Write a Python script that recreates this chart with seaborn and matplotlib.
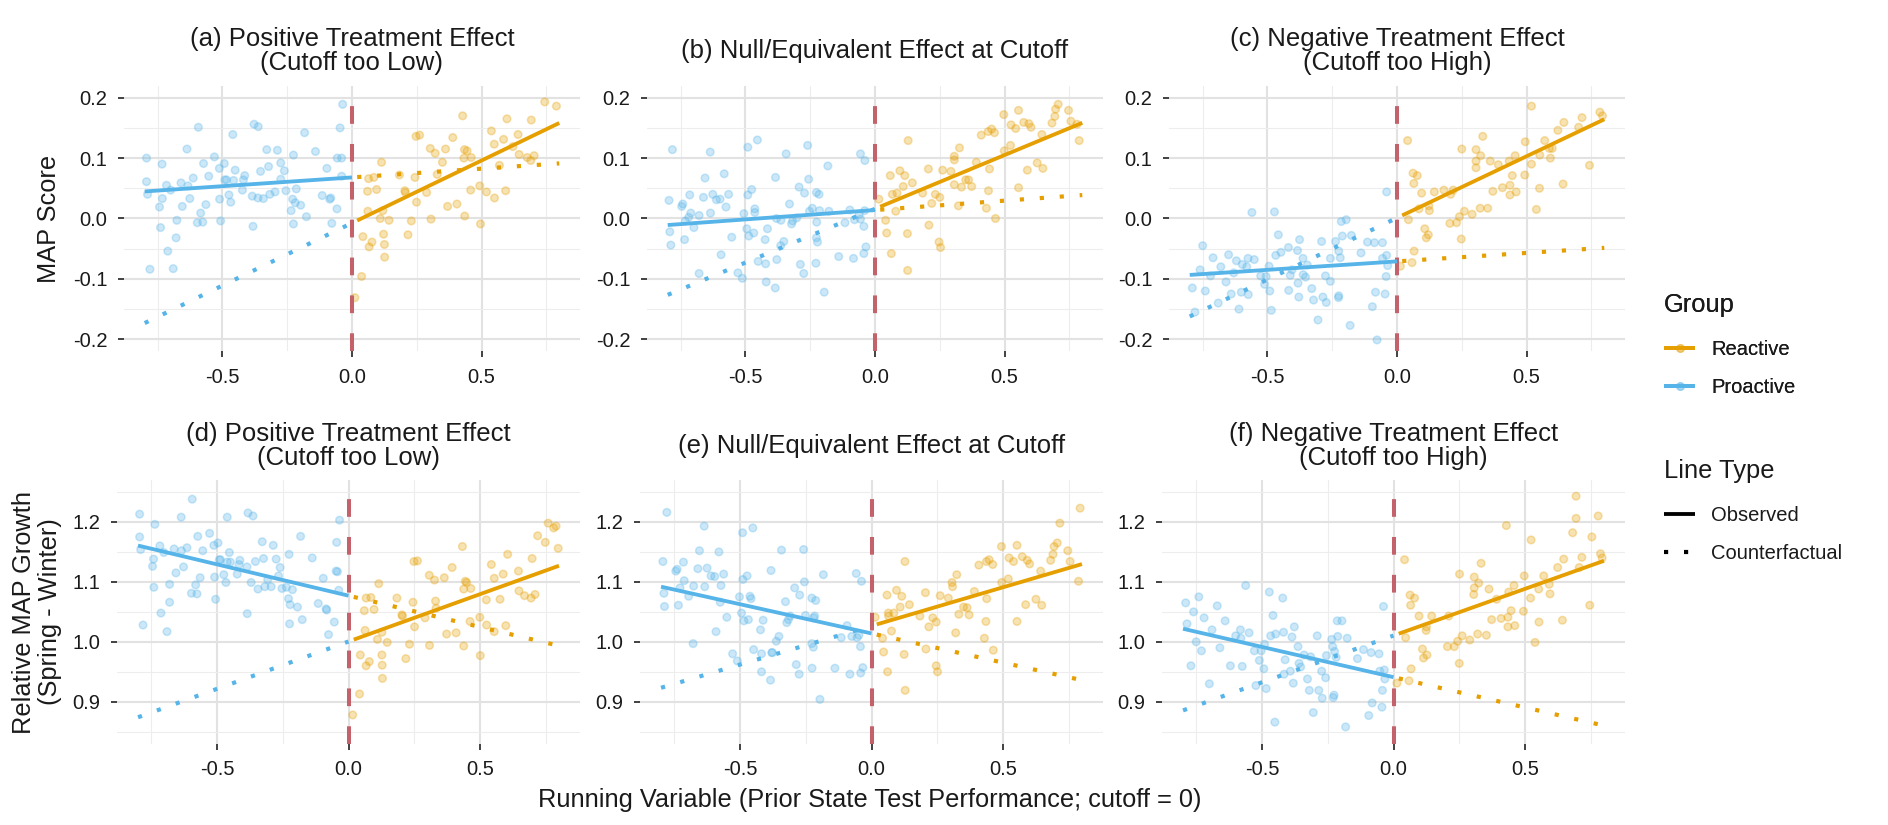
import matplotlib
matplotlib.use("Agg")
import matplotlib.pyplot as plt
from matplotlib.lines import Line2D
from matplotlib.ticker import FixedLocator, FuncFormatter
import numpy as np
import pandas as pd
import seaborn as sns

# ---------------- data ----------------
titles = ["(a) Positive Treatment Effect\n(Cutoff too Low)",
          "(b) Null/Equivalent Effect at Cutoff",
          "(c) Negative Treatment Effect\n(Cutoff too High)",
          "(d) Positive Treatment Effect\n(Cutoff too Low)",
          "(e) Null/Equivalent Effect at Cutoff",
          "(f) Negative Treatment Effect\n(Cutoff too High)"]
groups = ["Reactive", "Proactive"]
line_types = ["Observed", "Counterfactual"]
x_ticks = [-0.5, 0.0, 0.5]
x_minor = [-0.75, -0.25, 0.25, 0.75]
top_ticks = [-0.2, -0.1, 0.0, 0.1, 0.2]
top_minor = [-0.15, -0.05, 0.05, 0.15]
bot_ticks = [0.9, 1.0, 1.1, 1.2]
bot_minor = [0.85, 0.95, 1.05, 1.15, 1.25]
top_ylabel = "MAP Score"
bot_ylabel = "Relative MAP Growth\n(Spring - Winter)"
x_label = "Running Variable (Prior State Test Performance; cutoff = 0)"

# (x, y) points, proactive = left of cutoff, reactive = right of cutoff
a_pro = [(-0.793,0.100),(-0.793,0.061),(-0.789,0.040),(-0.780,-0.084),(-0.743,0.019),(-0.739,-0.015),
         (-0.733,0.090),(-0.732,0.033),(-0.716,0.055),(-0.711,-0.054),(-0.700,0.047),(-0.690,-0.083),
         (-0.679,-0.032),(-0.676,-0.003),(-0.660,0.059),(-0.655,0.020),(-0.637,0.115),(-0.633,0.054),
         (-0.626,0.033),(-0.613,0.067),(-0.597,-0.007),(-0.593,0.151),(-0.584,0.009),(-0.576,-0.006),
         (-0.573,0.091),(-0.564,0.023),(-0.553,0.070),(-0.531,0.102),(-0.512,0.083),(-0.511,0.032),
         (-0.507,-0.004),(-0.493,0.091),(-0.491,0.064),(-0.484,0.064),(-0.475,0.039),(-0.468,0.027),
         (-0.460,0.139),(-0.457,0.063),(-0.451,0.080),(-0.423,0.047),(-0.419,0.064),(-0.414,0.071),
         (-0.385,0.037),(-0.382,-0.013),(-0.378,0.156),(-0.362,0.152),(-0.363,0.034),(-0.353,0.078),
         (-0.342,0.033),(-0.329,0.114),(-0.322,0.086),(-0.317,0.040),(-0.297,0.044),(-0.288,0.113),
         (-0.275,0.092),(-0.275,0.065),(-0.261,0.079),(-0.255,0.046),(-0.235,0.013),(-0.229,0.032),
         (-0.226,0.105),(-0.226,-0.009),(-0.219,0.026),(-0.215,0.049),(-0.198,0.022),(-0.183,0.142),
         (-0.176,0.003),(-0.141,0.111),(-0.115,0.038),(-0.097,0.083),(-0.086,0.032),(-0.082,0.034),
         (-0.078,-0.008),(-0.058,0.016),(-0.057,0.100),(-0.046,0.150),(-0.040,0.100),(-0.040,0.070),
         (-0.036,0.189)]
a_rea = [(0.011,-0.131),(0.037,-0.096),(0.042,-0.030),(0.060,0.045),(0.061,0.012),(0.064,0.066),
         (0.066,-0.047),(0.077,-0.039),(0.084,0.068),(0.095,0.048),(0.109,0.000),(0.114,0.093),
         (0.119,0.013),(0.122,-0.026),(0.125,-0.043),(0.126,-0.064),(0.143,-0.003),(0.183,0.072),
         (0.204,0.046),(0.206,0.043),(0.216,-0.027),(0.229,-0.004),(0.243,0.068),(0.247,0.136),
         (0.249,0.027),(0.261,0.138),(0.288,0.043),(0.302,0.116),(0.305,-0.001),(0.321,0.108),
         (0.329,0.073),(0.349,0.093),(0.361,0.115),(0.369,0.020),(0.389,0.134),(0.405,0.024),
         (0.427,0.170),(0.432,0.100),(0.434,0.114),(0.435,0.004),(0.444,0.112),(0.458,0.047),
         (0.460,0.101),(0.493,0.054),(0.496,-0.009),(0.519,0.044),(0.538,0.145),(0.549,0.123),
         (0.550,0.034),(0.569,0.088),(0.585,0.131),(0.593,0.046),(0.598,0.165),(0.621,0.119),
         (0.641,0.139),(0.645,0.106),(0.676,0.101),(0.690,0.096),(0.692,0.163),(0.703,0.104),
         (0.744,0.193),(0.789,0.186)]

b_pro = [(-0.782,0.114),(-0.795,0.030),(-0.792,-0.022),(-0.788,-0.044),(-0.746,0.020),(-0.742,0.024),
         (-0.735,-0.035),(-0.732,-0.004),(-0.719,0.002),(-0.715,0.039),(-0.711,0.009),(-0.699,-0.015),
         (-0.679,0.005),(-0.679,-0.091),(-0.662,0.035),(-0.656,0.067),(-0.636,0.110),(-0.635,0.009),
         (-0.626,0.040),(-0.612,0.031),(-0.598,0.032),(-0.594,-0.060),(-0.582,0.074),(-0.575,0.019),
         (-0.565,0.040),(-0.553,-0.031),(-0.529,-0.090),(-0.512,-0.099),(-0.506,0.008),(-0.491,0.118),
         (-0.491,0.039),(-0.495,-0.017),(-0.487,-0.029),(-0.476,0.048),(-0.468,-0.024),(-0.464,0.016),
         (-0.464,0.010),(-0.454,0.130),(-0.451,-0.071),(-0.424,-0.035),(-0.422,-0.075),(-0.420,-0.105),
         (-0.415,-0.017),(-0.385,-0.115),(-0.384,0.068),(-0.380,0.000),(-0.379,-0.068),(-0.364,-0.045),
         (-0.363,-0.003),(-0.352,-0.038),(-0.343,0.107),(-0.330,0.024),(-0.322,-0.009),(-0.318,-0.004),
         (-0.302,0.001),(-0.293,0.052),(-0.288,-0.076),(-0.275,-0.091),(-0.272,0.042),(-0.260,0.121),
         (-0.256,0.065),(-0.253,0.012),(-0.242,0.017),(-0.228,-0.074),(-0.226,-0.032),(-0.226,0.043),
         (-0.225,-0.006),(-0.222,-0.039),(-0.216,0.040),(-0.214,0.013),(-0.196,-0.122),(-0.182,0.087),
         (-0.178,0.012),(-0.140,-0.063),(-0.116,-0.007),(-0.097,0.014),(-0.083,-0.066),(-0.079,-0.002),
         (-0.061,0.007),(-0.056,0.107),(-0.056,-0.001),(-0.043,-0.058),(-0.043,-0.013),(-0.039,0.096),
         (-0.035,-0.047),(-0.040,0.013)]
b_rea = [(0.015,0.032),(0.041,-0.003),(0.045,-0.024),(0.059,0.071),(0.063,-0.058),(0.067,0.040),
         (0.080,0.012),(0.085,0.042),(0.096,0.079),(0.109,0.053),(0.115,0.071),(0.125,-0.025),
         (0.126,-0.086),(0.128,0.129),(0.144,0.059),(0.184,0.042),(0.206,0.082),(0.208,-0.011),
         (0.219,0.025),(0.233,0.040),(0.247,-0.039),(0.250,0.035),(0.253,-0.048),(0.261,0.080),
         (0.293,0.078),(0.306,0.103),(0.306,0.097),(0.306,0.056),(0.322,0.021),(0.326,0.117),
         (0.334,0.052),(0.350,0.064),(0.361,0.064),(0.373,0.053),(0.391,0.093),(0.410,0.138),
         (0.430,0.017),(0.438,0.046),(0.437,0.144),(0.442,0.082),(0.450,0.148),(0.461,0.142),
         (0.465,0.000),(0.497,0.172),(0.499,0.112),(0.523,0.121),(0.525,0.155),(0.543,0.149),
         (0.554,0.179),(0.554,0.051),(0.574,0.159),(0.588,0.080),(0.594,0.157),(0.602,0.151),
         (0.626,0.092),(0.644,0.139),(0.648,0.083),(0.683,0.158),(0.694,0.169),(0.697,0.181),
         (0.707,0.189),(0.747,0.179),(0.756,0.161),(0.780,0.156),(0.788,0.129)]

c_pro = [(-0.790,-0.115),(-0.780,-0.155),(-0.760,-0.085),(-0.750,-0.045),(-0.740,-0.120),(-0.720,-0.095),
         (-0.710,-0.065),(-0.690,-0.140),(-0.680,-0.080),(-0.660,-0.105),(-0.650,-0.060),(-0.640,-0.125),
         (-0.630,-0.090),(-0.620,-0.070),(-0.610,-0.150),
         (-0.597,-0.076),(-0.580,-0.080),(-0.575,-0.066),(-0.551,-0.068),(-0.574,-0.126),(-0.601,-0.122),
         (-0.560,0.010),(-0.526,-0.095),(-0.511,-0.109),(-0.505,-0.096),(-0.494,-0.079),(-0.491,-0.120),
         (-0.485,-0.152),(-0.473,0.011),(-0.468,-0.061),(-0.458,-0.027),(-0.448,-0.056),(-0.419,-0.048),
         (-0.418,-0.119),(-0.412,-0.094),(-0.405,-0.085),(-0.384,-0.053),(-0.382,-0.107),(-0.379,-0.130),
         (-0.376,-0.035),(-0.363,-0.066),(-0.362,-0.093),(-0.353,-0.097),(-0.346,-0.077),(-0.329,-0.116),
         (-0.322,-0.135),(-0.305,-0.168),(-0.291,-0.038),(-0.286,-0.130),(-0.276,-0.095),(-0.273,-0.139),
         (-0.257,-0.066),(-0.257,-0.104),(-0.237,-0.038),(-0.226,-0.131),(-0.225,-0.128),(-0.225,-0.054),
         (-0.219,-0.065),(-0.215,-0.005),(-0.211,-0.029),(-0.196,-0.002),(-0.181,-0.177),(-0.176,-0.028),
         (-0.139,-0.057),(-0.114,-0.039),(-0.095,-0.146),(-0.087,-0.040),(-0.083,-0.122),(-0.077,-0.201),
         (-0.056,-0.040),(-0.056,-0.066),(-0.046,-0.125),(-0.042,-0.096),(-0.040,0.044),(-0.040,-0.061),
         (-0.036,-0.078)]
c_rea = [(0.013,-0.079),(0.041,0.129),(0.044,-0.002),(0.058,-0.073),(0.062,0.075),(0.065,0.058),
         (0.066,-0.054),(0.078,0.071),(0.085,0.016),(0.095,0.042),(0.107,-0.017),(0.113,-0.032),
         (0.121,-0.027),(0.123,0.021),(0.125,0.013),(0.144,0.044),(0.181,0.047),(0.204,-0.008),
         (0.207,0.040),(0.217,0.047),(0.230,-0.007),(0.241,0.003),(0.248,-0.034),(0.250,0.115),
         (0.260,0.012),(0.290,0.007),(0.305,0.114),(0.305,0.095),(0.305,0.084),(0.321,0.017),
         (0.323,0.104),(0.331,0.136),(0.350,0.017),(0.360,0.095),(0.370,0.045),(0.391,0.089),
         (0.407,0.051),(0.433,0.095),(0.436,0.055),(0.436,0.039),(0.445,0.071),(0.456,0.104),
         (0.460,0.044),(0.493,0.072),(0.495,0.127),(0.519,0.090),(0.519,0.186),(0.538,0.015),
         (0.550,0.050),(0.551,0.105),(0.570,0.129),(0.588,0.116),(0.592,0.100),(0.599,0.116),
         (0.621,0.146),(0.641,0.057),(0.644,0.159),(0.701,0.151),(0.714,0.167),(0.743,0.088),
         (0.783,0.176),(0.793,0.170)]

d_pro = [(-0.794,1.213),(-0.794,1.175),(-0.790,1.154),(-0.781,1.028),(-0.745,1.126),(-0.741,1.138),
         (-0.740,1.091),(-0.736,1.196),(-0.717,1.160),(-0.713,1.048),(-0.702,1.149),(-0.690,1.017),
         (-0.680,1.096),(-0.680,1.066),(-0.663,1.155),(-0.656,1.115),(-0.636,1.208),(-0.635,1.152),
         (-0.627,1.125),(-0.614,1.157),(-0.597,1.081),(-0.594,1.238),(-0.581,1.095),(-0.576,1.080),
         (-0.573,1.176),(-0.564,1.107),(-0.554,1.152),(-0.528,1.181),(-0.512,1.161),(-0.509,1.108),
         (-0.505,1.071),(-0.496,1.165),(-0.491,1.137),(-0.487,1.137),(-0.474,1.112),(-0.466,1.099),
         (-0.461,1.208),(-0.461,1.133),(-0.453,1.149),(-0.449,1.133),(-0.423,1.113),(-0.416,1.129),
         (-0.413,1.136),(-0.386,1.125),(-0.385,1.047),(-0.382,1.215),(-0.370,1.099),(-0.363,1.210),
         (-0.354,1.134),(-0.344,1.088),(-0.328,1.167),(-0.323,1.139),(-0.318,1.092),(-0.307,1.104),
         (-0.294,1.092),(-0.286,1.161),(-0.275,1.138),(-0.266,1.110),(-0.260,1.124),(-0.253,1.089),
         (-0.236,1.091),(-0.228,1.072),(-0.226,1.146),(-0.224,1.030),(-0.222,1.062),(-0.213,1.087),
         (-0.194,1.058),(-0.182,1.176),(-0.176,1.037),(-0.138,1.140),(-0.115,1.064),(-0.096,1.106),
         (-0.085,1.055),(-0.083,1.053),(-0.076,1.012),(-0.054,1.033),(-0.047,1.118),(-0.045,1.166),
         (-0.042,1.117),(-0.037,1.086),(-0.034,1.203)]
d_rea = [(0.016,0.878),(0.042,0.913),(0.045,0.978),(0.060,1.052),(0.063,1.019),(0.067,0.960),
         (0.067,1.073),(0.079,0.967),(0.085,1.074),(0.097,1.054),(0.110,1.004),(0.115,1.097),
         (0.127,0.978),(0.127,1.016),(0.128,0.961),(0.129,0.939),(0.147,0.999),(0.184,1.073),
         (0.203,1.045),(0.205,1.043),(0.218,0.972),(0.232,0.996),(0.245,1.066),(0.251,1.025),
         (0.249,1.134),(0.262,1.135),(0.291,1.040),(0.307,1.111),(0.308,0.994),(0.327,1.103),
         (0.331,1.068),(0.333,1.056),(0.364,1.107),(0.373,1.013),(0.394,1.124),(0.409,1.015),
         (0.433,1.159),(0.438,1.088),(0.438,0.993),(0.444,1.101),(0.449,1.099),(0.465,1.089),
         (0.462,1.034),(0.499,1.041),(0.501,0.977),(0.524,1.070),(0.525,1.028),(0.543,1.129),
         (0.554,1.017),(0.554,1.106),(0.576,1.071),(0.588,1.113),(0.598,1.027),(0.605,1.146),
         (0.646,1.118),(0.648,1.085),(0.669,1.077),(0.694,1.073),(0.698,1.139),(0.709,1.079),
         (0.719,1.177),(0.748,1.166),(0.759,1.198),(0.780,1.190),(0.789,1.193),(0.797,1.156)]

e_pro = [(-0.793,1.134),(-0.789,1.081),(-0.787,1.059),(-0.778,1.216),(-0.744,1.118),(-0.739,1.121),
         (-0.734,1.061),(-0.728,1.090),(-0.715,1.133),(-0.712,1.102),(-0.695,1.076),(-0.678,0.997),
         (-0.676,1.093),(-0.660,1.122),(-0.654,1.152),(-0.636,1.193),(-0.634,1.092),(-0.625,1.123),
         (-0.610,1.110),(-0.596,1.109),(-0.591,1.017),(-0.580,1.150),(-0.572,1.094),(-0.575,1.066),
         (-0.562,1.113),(-0.550,1.041),(-0.528,0.980),(-0.510,0.968),(-0.502,1.075),(-0.494,1.048),
         (-0.490,1.182),(-0.489,1.104),(-0.485,1.035),(-0.473,1.110),(-0.468,1.037),(-0.462,1.076),
         (-0.458,1.072),(-0.451,1.190),(-0.448,0.987),(-0.422,1.020),(-0.418,0.980),(-0.418,0.950),
         (-0.412,1.036),(-0.384,0.936),(-0.382,1.119),(-0.379,0.982),(-0.377,0.982),(-0.362,1.001),
         (-0.352,1.009),(-0.342,1.153),(-0.327,1.067),(-0.322,1.032),(-0.316,1.037),(-0.309,1.043),
         (-0.292,1.090),(-0.286,0.962),(-0.275,0.946),(-0.273,1.078),(-0.258,1.154),(-0.255,1.100),
         (-0.251,1.044),(-0.227,1.073),(-0.227,0.997),(-0.226,0.956),(-0.221,0.991),(-0.220,1.040),
         (-0.216,1.043),(-0.212,1.069),(-0.196,0.904),(-0.183,1.112),(-0.139,0.956),(-0.115,1.007),
         (-0.093,1.027),(-0.082,0.946),(-0.075,1.009),(-0.058,1.114),(-0.055,1.007),(-0.048,1.011),
         (-0.042,0.992),(-0.041,0.948),(-0.038,1.101),(-0.033,0.957)]
e_rea = [(0.014,1.041),(0.042,1.006),(0.046,0.983),(0.059,1.078),(0.061,0.950),(0.064,1.048),
         (0.065,1.043),(0.076,1.018),(0.085,1.048),(0.095,1.086),(0.109,1.058),(0.115,1.076),
         (0.124,0.979),(0.127,1.134),(0.128,0.919),(0.144,1.062),(0.184,1.043),(0.205,1.082),
         (0.207,0.988),(0.218,1.025),(0.233,1.040),(0.246,1.033),(0.246,0.960),(0.251,0.950),
         (0.261,1.077),(0.292,1.073),(0.306,1.099),(0.308,1.092),(0.320,1.015),(0.324,1.112),
         (0.332,1.046),(0.350,1.058),(0.363,1.057),(0.371,1.045),(0.391,1.084),(0.408,1.128),
         (0.429,1.006),(0.435,1.034),(0.437,1.134),(0.438,1.072),(0.447,1.137),(0.461,1.129),
         (0.463,0.986),(0.494,1.159),(0.495,1.099),(0.520,1.105),(0.523,1.140),(0.540,1.134),
         (0.553,1.161),(0.553,1.034),(0.573,1.142),(0.586,1.062),(0.592,1.136),(0.601,1.130),
         (0.625,1.071),(0.643,1.118),(0.647,1.061),(0.681,1.136),(0.690,1.146),(0.694,1.159),
         (0.706,1.165),(0.716,1.198),(0.746,1.152),(0.755,1.134),(0.787,1.101),(0.793,1.223)]

f_pro = [(-0.790,1.065),(-0.785,1.030),(-0.770,0.960),(-0.760,1.050),(-0.750,1.000),(-0.740,1.075),
         (-0.730,0.985),(-0.720,1.040),(-0.700,0.930),(-0.690,1.020),(-0.670,1.060),(-0.660,0.990),
         (-0.640,1.035),(-0.620,0.960),(-0.600,1.010),
         (-0.562,1.094),(-0.582,1.020),(-0.580,1.006),(-0.575,0.959),(-0.549,1.015),(-0.529,0.985),
         (-0.523,0.927),(-0.510,0.969),(-0.503,0.985),(-0.493,0.955),(-0.490,0.996),(-0.484,0.922),
         (-0.472,1.083),(-0.467,1.010),(-0.458,1.044),(-0.451,0.866),(-0.448,1.013),(-0.421,1.073),
         (-0.418,1.016),(-0.416,0.946),(-0.412,0.970),(-0.392,0.951),(-0.386,1.008),(-0.381,0.931),
         (-0.377,1.025),(-0.363,0.992),(-0.359,0.964),(-0.353,0.958),(-0.340,0.978),(-0.327,0.938),
         (-0.320,0.919),(-0.315,0.975),(-0.305,0.882),(-0.290,1.010),(-0.284,0.919),(-0.273,0.951),
         (-0.271,0.906),(-0.258,0.940),(-0.255,0.977),(-0.235,1.004),(-0.231,0.992),(-0.229,0.907),
         (-0.226,0.911),(-0.224,0.984),(-0.218,0.974),(-0.214,1.035),(-0.212,1.009),(-0.196,1.035),
         (-0.182,0.858),(-0.176,1.006),(-0.137,0.972),(-0.114,0.987),(-0.094,0.877),(-0.085,0.982),
         (-0.081,0.898),(-0.055,0.980),(-0.052,0.951),(-0.044,0.891),(-0.042,0.919),(-0.038,1.059),
         (-0.035,0.953),(-0.033,0.938)]
f_rea = [(0.013,0.931),(0.042,1.137),(0.046,1.007),(0.059,0.935),(0.063,1.078),(0.065,1.061),
         (0.067,0.955),(0.080,1.073),(0.097,1.043),(0.110,0.988),(0.114,0.973),(0.124,1.019),
         (0.125,1.025),(0.127,0.978),(0.145,1.043),(0.205,0.992),(0.210,1.043),(0.231,0.992),
         (0.244,1.001),(0.250,0.964),(0.251,1.113),(0.261,1.010),(0.290,1.003),(0.305,1.079),
         (0.307,1.108),(0.307,1.090),(0.324,1.098),(0.333,1.131),(0.320,1.013),(0.353,1.011),
         (0.363,1.088),(0.373,1.037),(0.392,1.071),(0.409,1.039),(0.429,1.194),(0.435,1.025),
         (0.438,1.083),(0.435,1.041),(0.447,1.052),(0.458,1.094),(0.461,1.027),(0.494,1.051),
         (0.497,1.110),(0.521,1.073),(0.523,1.170),(0.538,0.999),(0.552,1.088),(0.553,1.033),
         (0.571,1.110),(0.592,1.096),(0.595,1.080),(0.624,1.124),(0.642,1.036),(0.647,1.138),
         (0.681,1.182),(0.694,1.243),(0.694,1.206),(0.706,1.124),(0.716,1.141),(0.746,1.061),
         (0.754,1.175),(0.778,1.210),(0.787,1.147),(0.793,1.140)]

# fitted lines: (value at cutoff, slope) for each side
a_fit_pro, a_fit_rea = (0.068, 0.029), (-0.0075, 0.207)
b_fit_pro, b_fit_rea = (0.014, 0.031), (0.016, 0.178)
c_fit_pro, c_fit_rea = (-0.071, 0.028), (0.001, 0.204)
d_fit_pro, d_fit_rea = (1.077, -0.1045), (1.0005, 0.158)
e_fit_pro, e_fit_rea = (1.014, -0.0975), (1.0265, 0.129)
f_fit_pro, f_fit_rea = (0.941, -0.101), (1.0104, 0.156)

# x range of each fitted segment
left_range = [-0.8, 0.0]
right_range = [0.02, 0.8]

# ---------------- style ----------------
sns.set_theme(style="white")
plt.rcParams["font.family"] = ["Liberation Sans", "DejaVu Sans"]

ORANGE = "#E69F00"
BLUE = "#56B4E9"
RED = "#C4626B"
palette = {"Reactive": ORANGE, "Proactive": BLUE}
LW = 2.75
LW_DOT = 3.0
DOTTED = (0, (1, 3.8))
TXT = "#1A1A1A"

fig = plt.figure(figsize=(18.88, 8.25), dpi=100)
W, H = 1888, 825


def px_axes(left, top, right, bottom):
    return fig.add_axes([left / W, 1 - bottom / H, (right - left) / W, (bottom - top) / H])


panels = [
    (a_pro, a_rea, a_fit_pro, a_fit_rea, px_axes(124, 85.6, 580, 351.4), "top"),
    (b_pro, b_rea, b_fit_pro, b_fit_rea, px_axes(647, 85.6, 1103, 351.4), "top"),
    (c_pro, c_rea, c_fit_pro, c_fit_rea, px_axes(1169, 85.6, 1625, 351.4), "top"),
    (d_pro, d_rea, d_fit_pro, d_fit_rea, px_axes(117, 480, 580, 743.7), "bot"),
    (e_pro, e_rea, e_fit_pro, e_fit_rea, px_axes(640, 480, 1103, 743.7), "bot"),
    (f_pro, f_rea, f_fit_pro, f_fit_rea, px_axes(1162, 480, 1625, 743.7), "bot"),
]

fmt = FuncFormatter(lambda v, p: f"{round(v, 2) + 0.0:.1f}")

for (pro, rea, fit_pro, fit_rea, ax, row), title in zip(panels, titles):
    pts = pd.DataFrame(pro + rea, columns=["x", "y"])
    pts["group"] = ["Proactive"] * len(pro) + ["Reactive"] * len(rea)
    sns.scatterplot(data=pts, x="x", y="y", hue="group", palette=palette, s=30,
                    alpha=0.3, edgecolor="face", linewidth=1.1, legend=False, ax=ax, zorder=2)

    ax.axvline(0, color=RED, lw=2.9, linestyle=(0, (4.4, 5.0)), dash_capstyle="butt", zorder=3)

    xl = np.array(left_range)
    xr = np.array(right_range)
    # observed fits
    sns.lineplot(x=xl, y=fit_pro[0] + fit_pro[1] * xl, color=BLUE, lw=LW,
                 solid_capstyle="butt", ax=ax, zorder=4)
    sns.lineplot(x=xr, y=fit_rea[0] + fit_rea[1] * xr, color=ORANGE, lw=LW,
                 solid_capstyle="butt", ax=ax, zorder=4)
    # counterfactual: other side's fit carried across the cutoff
    sns.lineplot(x=xl, y=fit_rea[0] + fit_rea[1] * xl, color=BLUE, lw=LW_DOT,
                 linestyle=DOTTED, dash_capstyle="butt", ax=ax, zorder=4)
    sns.lineplot(x=xr, y=fit_pro[0] + fit_pro[1] * xr, color=ORANGE, lw=LW_DOT,
                 linestyle=DOTTED, dash_capstyle="butt", ax=ax, zorder=4)

    ax.set_xlim(-0.88, 0.88)
    ax.xaxis.set_major_locator(FixedLocator(x_ticks))
    ax.xaxis.set_minor_locator(FixedLocator(x_minor))
    if row == "top":
        ax.set_ylim(-0.22, 0.22)
        ax.yaxis.set_major_locator(FixedLocator(top_ticks))
        ax.yaxis.set_minor_locator(FixedLocator(top_minor))
    else:
        ax.set_ylim(0.83, 1.27)
        ax.yaxis.set_major_locator(FixedLocator(bot_ticks))
        ax.yaxis.set_minor_locator(FixedLocator(bot_minor))
    ax.xaxis.set_major_formatter(fmt)
    ax.yaxis.set_major_formatter(fmt)
    ax.set_xlabel("")
    ax.set_ylabel("")
    for s in ax.spines.values():
        s.set_visible(False)
    ax.set_axisbelow(True)
    ax.grid(which="major", color="#E2E2E2", lw=1.5)
    ax.grid(which="minor", color="#EDEDED", lw=0.8)
    ax.tick_params(which="major", length=4, width=1.3, color="#333333", pad=8,
                   labelsize=14.5, labelcolor=TXT, bottom=True, left=True)
    ax.tick_params(which="minor", length=0)

    bb = ax.get_position()
    ty = 1 - 51 / H if row == "top" else 1 - 446 / H
    fig.text((bb.x0 + bb.x1) / 2, ty, title, ha="center", va="center",
             fontsize=18.5, color=TXT, linespacing=1.05)

fig.text(61 / W, 1 - 218.5 / H, top_ylabel, rotation=90, ha="right", va="center",
         fontsize=18.3, color=TXT)
fig.text(62 / W, 1 - 612 / H, bot_ylabel, rotation=90, ha="right", va="center",
         fontsize=18.3, color=TXT, linespacing=1.1, multialignment="center")
fig.text(870 / W, 1 - 800 / H, x_label, ha="center", va="center", fontsize=18.3, color=TXT)

# legends
def rgba(c, a):
    r, g, b = matplotlib.colors.to_rgb(c)
    return (r, g, b, a)

group_handles = [Line2D([0], [0], color=palette[g], lw=LW, solid_capstyle="butt",
                        marker="o", markersize=5.5, markerfacecolor=rgba(palette[g], 0.3),
                        markeredgecolor=rgba(palette[g], 0.3)) for g in groups]
type_handles = [Line2D([0], [0], color="black", lw=LW, solid_capstyle="butt"),
                Line2D([0], [0], color="black", lw=LW_DOT, linestyle=DOTTED, dash_capstyle="butt")]

leg_kw = dict(loc="upper left", frameon=False, fontsize=14.5, title_fontsize=18.4,
              handlelength=1.55, handletextpad=0.8, labelspacing=0.95, borderpad=0,
              borderaxespad=0, alignment="left")
leg1 = fig.legend(group_handles, groups, title="Group",
                  bbox_to_anchor=(1664 / W, 1 - 293 / H), **leg_kw)
fig.add_artist(leg1)
leg2 = fig.legend(type_handles, line_types, title="Line Type",
                  bbox_to_anchor=(1664 / W, 1 - 459 / H), **leg_kw)
for lg in (leg1, leg2):
    lg._legend_box.sep = 16.5  # gap between legend title and its keys (points)
    for t in lg.get_texts():
        t.set_color(TXT)
    lg.get_title().set_color(TXT)

fig.savefig("out.png", dpi=100)
